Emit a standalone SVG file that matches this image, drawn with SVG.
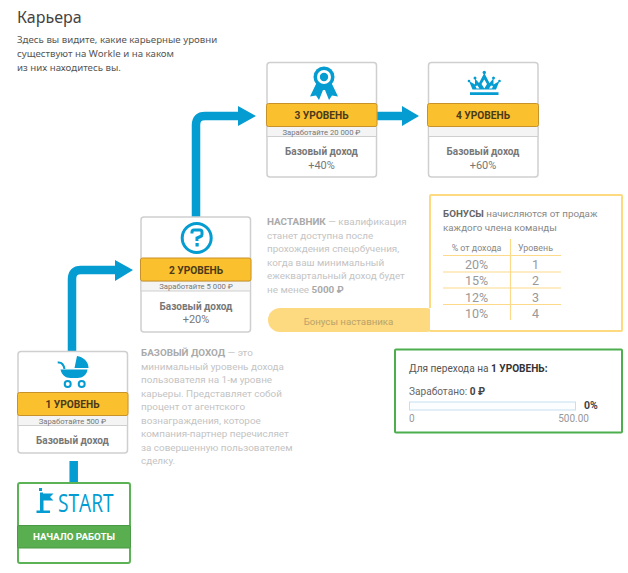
<svg xmlns="http://www.w3.org/2000/svg" width="628" height="573" viewBox="0 0 628 573">
<style>
text{font-family:Roboto,"Noto Sans","DejaVu Sans",sans-serif}
.card{fill:#fff;stroke:#cfcfcf;stroke-width:1.5}
.band{fill:#fbc02d;stroke:#c8922a;stroke-width:1}
.sub{fill:#f4f4f4;stroke:#cfcfcf;stroke-width:1}
.lvl{font-size:10.200px;font-weight:700;fill:#4a3a1a;text-anchor:middle}
.earn{font-size:7.700px;fill:#777;text-anchor:middle}
.inc{font-size:10px;font-weight:700;fill:#777;text-anchor:middle}
.pct{font-size:11px;font-weight:400;fill:#777;text-anchor:middle}
.gr{font-size:9.900px;fill:#c4c4c4}
.grb{font-weight:700;fill:#aaa}
.ic{fill:#049cd1}
.conn{fill:none;stroke:#049cd1;stroke-width:8.500}
.hd{fill:#049cd1}
.in{font-size:9.700px;fill:#555;font-family:"Noto Sans","Open Sans",sans-serif}
.th{font-size:8.900px;fill:#888;text-anchor:middle}
.td{font-size:12.500px;fill:#999;text-anchor:middle}
.rule{stroke:#fdd98a;stroke-width:1.200}
</style>

<g id="intro">
<text x="17" y="23" font-size="16" fill="#444" style="font-family:'Noto Sans',sans-serif">Карьера</text>
<text x="17" y="43" class="in">Здесь вы видите, какие карьерные уровни</text>
<text x="17" y="57" class="in">существуют на Workle и на каком</text>
<text x="17" y="71" class="in">из них находитесь вы.</text>
</g>

<g id="connectors">
<path class="conn" d="M72 351V279Q72 270 81 270H117"/>
<polygon class="hd" points="115,260 133,270 115,281"/>
<path class="conn" d="M196 217V125Q196 116 205 116H240"/>
<polygon class="hd" points="238,106 256,116 238,126"/>
<path class="conn" d="M377 116H403"/>
<polygon class="hd" points="402,106 419,116 402,126"/>
<path class="conn" d="M73.700 461V483"/>
</g>

<g id="node-start">
<rect x="18" y="483" width="112" height="80" rx="2" fill="#fff" stroke="#5cb356" stroke-width="2"/>
<path class="ic" d="M39 488h3v3h-3zM40 492.500h3v1h10.500l-3.500 3.500 3.500 3.500H43.500v10h6.500v2.500H36.500v-2.500h3.500z"/>
<text x="58" y="511.500" font-size="25" fill="#049cd1" textLength="55.500" lengthAdjust="spacingAndGlyphs" style="font-family:'Open Sans','Noto Sans',sans-serif">START</text>
<rect x="17.500" y="525.500" width="113" height="22.500" rx="1.500" fill="#59ae50" stroke="#4a9a45"/>
<text x="74" y="540" font-size="9.800" font-weight="700" fill="#fff" text-anchor="middle">НАЧАЛО РАБОТЫ</text>
</g>

<g id="node-level-1">
<rect class="card" x="18" y="351.500" width="109.500" height="101.500" rx="3"/>
<path class="ic" d="M77 356C83 357 88.500 361 88.500 368H74.500zM60.500 369.500H87.500C87 374.500 82.500 378 77.500 378H70.500C65.500 378 61.500 374.500 60.500 369.500z"/>
<path d="M57.700 362.500C61 362 63.500 363.500 64.500 369" fill="none" stroke="#049cd1" stroke-width="2"/>
<circle cx="67.700" cy="384" r="3" fill="none" stroke="#049cd1" stroke-width="2"/>
<circle cx="81.700" cy="384" r="3" fill="none" stroke="#049cd1" stroke-width="2"/>
<rect class="sub" x="18" y="415.500" width="109.500" height="10"/>
<rect class="band" x="17.500" y="392.500" width="110.500" height="23" rx="2"/>
<text class="lvl" x="72.500" y="408">1 УРОВЕНЬ</text>
<text class="earn" x="72.500" y="423.500">Заработайте 500 ₽</text>
<text class="inc" x="72.500" y="444">Базовый доход</text>
</g>

<g id="node-level-2">
<rect class="card" x="141" y="217" width="109.500" height="115" rx="3"/>
<circle cx="196.700" cy="238" r="14.500" fill="none" stroke="#049cd1" stroke-width="3"/>
<path d="M192 233.500V232Q192 230 194 230H200Q202 230 202 232V234.500Q202 236 200.500 236.500L197 238V241" fill="none" stroke="#049cd1" stroke-width="3"/>
<rect class="ic" x="195.500" y="243" width="3.200" height="3.500"/>
<rect class="sub" x="141" y="281" width="109.500" height="10"/>
<rect class="band" x="140.500" y="258" width="110.500" height="23" rx="2"/>
<text class="lvl" x="196" y="273.500">2 УРОВЕНЬ</text>
<text class="earn" x="196" y="289">Заработайте 5 000 ₽</text>
<text class="inc" x="196" y="309.500">Базовый доход</text>
<text class="pct" x="196" y="323">+20%</text>
</g>

<g id="node-level-3">
<rect class="card" x="267" y="62.500" width="109.500" height="114.500" rx="3"/>
<path class="ic" d="M316.500 83L310 96.500 316 95.500 319 100 323 90H325L329 100 332 95.500 338 96.500 331.500 83z"/>
<circle class="ic" cx="324" cy="77" r="10.500"/>
<circle cx="324" cy="77" r="7" fill="#fff"/>
<circle class="ic" cx="324" cy="77" r="4.200"/>
<rect class="sub" x="267" y="126.500" width="109.500" height="10"/>
<rect class="band" x="266.500" y="103.500" width="110.500" height="23" rx="2"/>
<text class="lvl" x="321.500" y="119">3 УРОВЕНЬ</text>
<text class="earn" x="321.500" y="134.500">Заработайте 20 000 ₽</text>
<text class="inc" x="321.500" y="155">Базовый доход</text>
<text class="pct" x="321.500" y="168.500">+40%</text>
</g>

<g id="node-level-4">
<rect class="card" x="428.500" y="62.500" width="109.500" height="114.500" rx="3"/>
<path class="ic" d="M470 92.300h28.500v2.600H470zM472.500 89.500L469 81 475 84.500 475 78.500 479 83 484.300 73 489.500 83 493.500 78.500 493.500 84.500 499.500 81 496 89.500zM484.300 79.500L481.500 84 484.300 88.500 487 84zM475.500 86L476.500 88.500H479.500L477.500 85.500zM493 86L492 88.500H489L491 85.500z" fill-rule="evenodd"/>
<circle class="ic" cx="484.300" cy="72.500" r="1.700"/>
<circle class="ic" cx="475" cy="78" r="1.500"/>
<circle class="ic" cx="493.500" cy="78" r="1.500"/>
<circle class="ic" cx="469" cy="81" r="1.300"/>
<circle class="ic" cx="499.500" cy="81" r="1.300"/>
<rect class="sub" x="428.500" y="126.500" width="109.500" height="10"/>
<rect class="band" x="427.500" y="103.500" width="111" height="23" rx="2"/>
<text class="lvl" x="483" y="119">4 УРОВЕНЬ</text>
<text class="inc" x="483" y="155">Базовый доход</text>
<text class="pct" x="483" y="168.500">+60%</text>
</g>

<g id="note-base">
<text class="gr" x="141" y="356"><tspan class="grb">БАЗОВЫЙ ДОХОД</tspan> — это</text>
<text class="gr" x="141" y="369.500">минимальный уровень дохода</text>
<text class="gr" x="141" y="383">пользователя на 1-м уровне</text>
<text class="gr" x="141" y="396.500">карьеры. Представляет собой</text>
<text class="gr" x="141" y="410">процент от агентского</text>
<text class="gr" x="141" y="423.500">вознаграждения, которое</text>
<text class="gr" x="141" y="437">компания-партнер перечисляет</text>
<text class="gr" x="141" y="450.500">за совершенную пользователем</text>
<text class="gr" x="141" y="464">сделку.</text>
</g>

<g id="note-mentor">
<text class="gr" x="267" y="225"><tspan class="grb">НАСТАВНИК</tspan> — квалификация</text>
<text class="gr" x="267" y="238.500">станет доступна после</text>
<text class="gr" x="267" y="252">прохождения спецобучения,</text>
<text class="gr" x="267" y="265.500">когда ваш минимальный</text>
<text class="gr" x="267" y="279">ежеквартальный доход будет</text>
<text class="gr" x="267" y="292.500">не менее <tspan class="grb">5000 ₽</tspan></text>
</g>

<g id="bonus-panel">
<rect x="268" y="308" width="170" height="24" rx="12" fill="#fdd97f"/>
<text x="348.500" y="324.500" font-size="9.700" fill="#b9a36a" text-anchor="middle">Бонусы наставника</text>
<path d="M430 308V196a1 1 0 0 1 1-1H621a1 1 0 0 1 1 1V330a1 1 0 0 1-1 1H430" fill="#fff" stroke="#fdd97f" stroke-width="2"/>
<text x="443" y="217" font-size="9.800" fill="#888"><tspan font-weight="700" fill="#666">БОНУСЫ</tspan> начисляются от продаж</text>
<text x="443" y="231" font-size="9.800" fill="#888">каждого члена команды</text>
<line class="rule" x1="510.500" y1="239" x2="510.500" y2="320"/>
<line class="rule" x1="443" y1="255.500" x2="561" y2="255.500"/>
<line class="rule" x1="443" y1="272" x2="561" y2="272"/>
<line class="rule" x1="443" y1="288" x2="561" y2="288"/>
<line class="rule" x1="443" y1="304.500" x2="561" y2="304.500"/>
<text class="th" x="476.500" y="251">% от дохода</text><text class="th" x="535.500" y="251">Уровень</text>
<text class="td" x="476.500" y="269">20%</text><text class="td" x="535.500" y="269">1</text>
<text class="td" x="476.500" y="285">15%</text><text class="td" x="535.500" y="285">2</text>
<text class="td" x="476.500" y="301.500">12%</text><text class="td" x="535.500" y="301.500">3</text>
<text class="td" x="476.500" y="317.500">10%</text><text class="td" x="535.500" y="317.500">4</text>
</g>

<g id="progress-panel">
<rect x="395" y="349.500" width="227" height="83" rx="1" fill="#fff" stroke="#4cae4c" stroke-width="2"/>
<text x="409" y="372" font-size="10.100" fill="#555">Для перехода на <tspan font-weight="700" fill="#333">1 УРОВЕНЬ:</tspan></text>
<text x="409" y="395" font-size="10.100" fill="#666">Заработано: <tspan font-weight="700" fill="#444">0 ₽</tspan></text>
<rect x="409.500" y="402" width="166" height="8" fill="#fbfdff" stroke="#c5dff0" stroke-width="1"/>
<text x="584" y="409" font-size="10.500" font-weight="700" fill="#444">0%</text>
<text x="409" y="422" font-size="10" fill="#999">0</text>
<text x="589" y="422" font-size="10" fill="#999" text-anchor="end">500.00</text>
</g>
</svg>
